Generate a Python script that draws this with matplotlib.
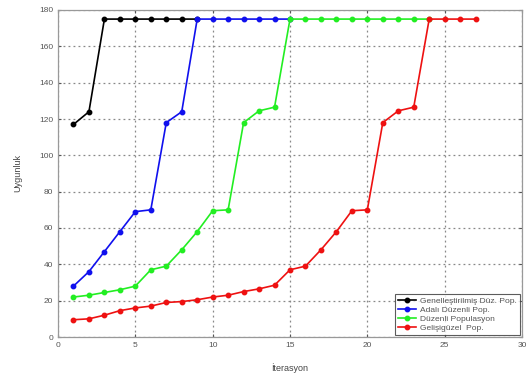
import matplotlib
matplotlib.use("Agg")
import matplotlib.pyplot as plt

iters_black = list(range(1, 10))
black = [117, 124, 175, 175, 175, 175, 175, 175, 175]

iters_blue = list(range(1, 16))
blue = [28, 36, 47, 58, 69, 70, 118, 124, 175, 175, 175, 175, 175, 175, 175]

iters_green = list(range(1, 25))
green = [22, 23, 24.5, 26, 28, 37, 39, 48, 58, 69.5, 70, 118, 124.5, 126.5,
         175, 175, 175, 175, 175, 175, 175, 175, 175, 175]

iters_red = list(range(1, 28))
red = [9.5, 10, 12, 14.5, 16, 17, 19, 19.5, 20.5, 22, 23, 25, 26.5, 28.5,
       37, 39, 48, 58, 69.5, 70, 118, 124.5, 126.5, 175, 175, 175, 175]

labels = ["Genelleştirilmiş Düz. Pop.", "Adalı Düzenli Pop.",
          "Düzenli Populasyon", "Gelişigüzel  Pop."]

plt.rcParams['font.family'] = ['Liberation Sans', 'DejaVu Sans']

fig = plt.figure(figsize=(5.29, 3.73), dpi=100)
ax = fig.add_axes([58/529, 1 - 337/373, (522 - 58)/529, (337 - 10)/373])

kw = dict(marker='o', markersize=3.2, linewidth=1.2)
ax.plot(iters_black, black, color='black', label=labels[0], **kw)
ax.plot(iters_blue, blue, color='#1010ee', label=labels[1], **kw)
ax.plot(iters_green, green, color='#22ee22', label=labels[2], **kw)
ax.plot(iters_red, red, color='#ee1111', label=labels[3], **kw)

ax.set_xlim(0, 30)
ax.set_ylim(0, 180)
ax.set_xticks(range(0, 31, 5))
ax.set_yticks(range(0, 181, 20))
ax.grid(True, linestyle=(0, (1.5, 2.5)), color='#888888', linewidth=0.9)
ax.tick_params(labelsize=6, colors='#555555', length=2, direction='in',
               top=True, right=True)
for s in ax.spines.values():
    s.set_color('#999999')
    s.set_linewidth(0.9)

ax.set_xlabel("İterasyon", fontsize=6.5, color='#444444', labelpad=10)
ax.set_ylabel("Uygunluk", fontsize=6.5, color='#444444', labelpad=12)

leg = ax.legend(loc='lower right', fontsize=6, frameon=True, fancybox=False,
                edgecolor='#333333', borderpad=0.3, labelspacing=0.15,
                handlelength=2.2, handletextpad=0.5, borderaxespad=0.3)
leg.get_frame().set_linewidth(0.8)
for t in leg.get_texts():
    t.set_color('#555555')

fig.savefig("out.png", dpi=100)
